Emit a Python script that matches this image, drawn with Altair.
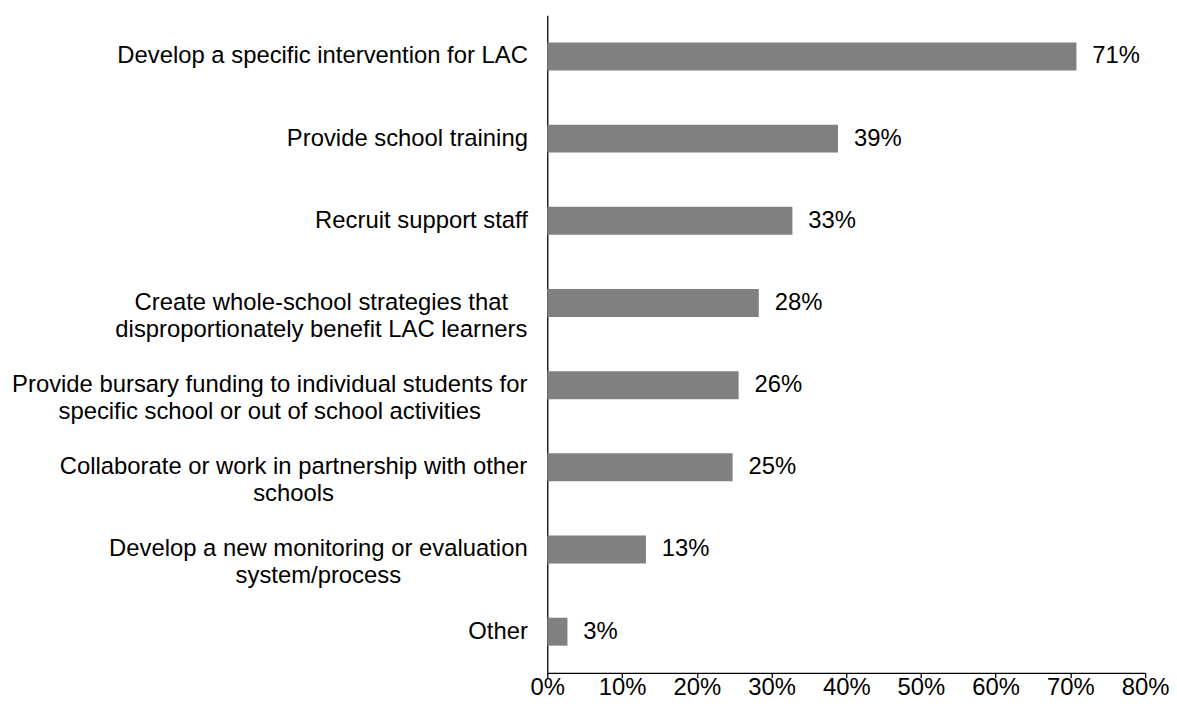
import altair as alt
import pandas as pd

categories = [
    "Develop a specific intervention for LAC",
    "Provide school training",
    "Recruit support staff",
    "Create whole-school strategies that|disproportionately benefit LAC learners",
    "Provide bursary funding to individual students for|specific school or out of school activities",
    "Collaborate or work in partnership with other|schools",
    "Develop a new monitoring or evaluation|system/process",
    "Other",
]
values = [0.708, 0.389, 0.328, 0.283, 0.256, 0.248, 0.132, 0.027]
tick_values = [0, 0.1, 0.2, 0.3, 0.4, 0.5, 0.6, 0.7, 0.8]

df = pd.DataFrame({"category": categories, "value": values})

FONT = "Liberation Sans"

# multi-line labels: lines centred on each other, block right-aligned next to the axis
label_padding = {
    "condition": [
        {"test": "indexof(datum.value, 'Create whole') == 0", "value": 228},
        {"test": "indexof(datum.value, 'Provide bursary') == 0", "value": 280},
        {"test": "indexof(datum.value, 'Collaborate') == 0", "value": 256},
        {"test": "indexof(datum.value, 'Develop a new') == 0", "value": 231},
    ],
    "value": 20,
}
label_align = {
    "condition": {"test": "indexof(datum.value, '|') >= 0", "value": "center"},
    "value": "right",
}

y_enc = alt.Y(
    "category:N",
    sort=None,
    title=None,
    scale=alt.Scale(paddingInner=0.66, paddingOuter=0.33),
    axis=alt.Axis(
        labelExpr="split(datum.label, '|')",
        ticks=False,
        labelPadding=label_padding,
        labelAlign=label_align,
        labelFontSize=24,
        labelLineHeight=27,
        labelColor="black",
        labelFont=FONT,
        labelLimit=0,
        domainColor="black",
        domainWidth=1.3,
    ),
)
x_enc = alt.X(
    "value:Q",
    title=None,
    scale=alt.Scale(domain=[0, 0.8], nice=False),
    axis=alt.Axis(
        values=tick_values,
        format=".0%",
        grid=False,
        labelFontSize=24,
        labelColor="black",
        labelFont=FONT,
        labelPadding=-2,
        tickSize=5,
        tickColor="black",
        tickWidth=1.3,
        domainColor="black",
        domainWidth=1.3,
        labelFlush=False,
    ),
)

base = alt.Chart(df)
bars = base.mark_bar(color="#808080").encode(y=y_enc, x=x_enc)
text = base.mark_text(
    align="left", baseline="middle", dx=16, fontSize=24, font=FONT, color="black"
).encode(
    y=alt.Y("category:N", sort=None),
    x=alt.X("value:Q"),
    text=alt.Text("value:Q", format=".0%"),
)

chart = (
    alt.layer(bars, text)
    .properties(
        width=602,
        height=662,
        autosize=alt.AutoSizeParams(type="none"),
        padding={"left": 543, "top": 5, "right": 24, "bottom": 24},
    )
    .configure_view(stroke=None)
)

chart.save("out.html", embed_options={"renderer": "svg", "actions": False})
